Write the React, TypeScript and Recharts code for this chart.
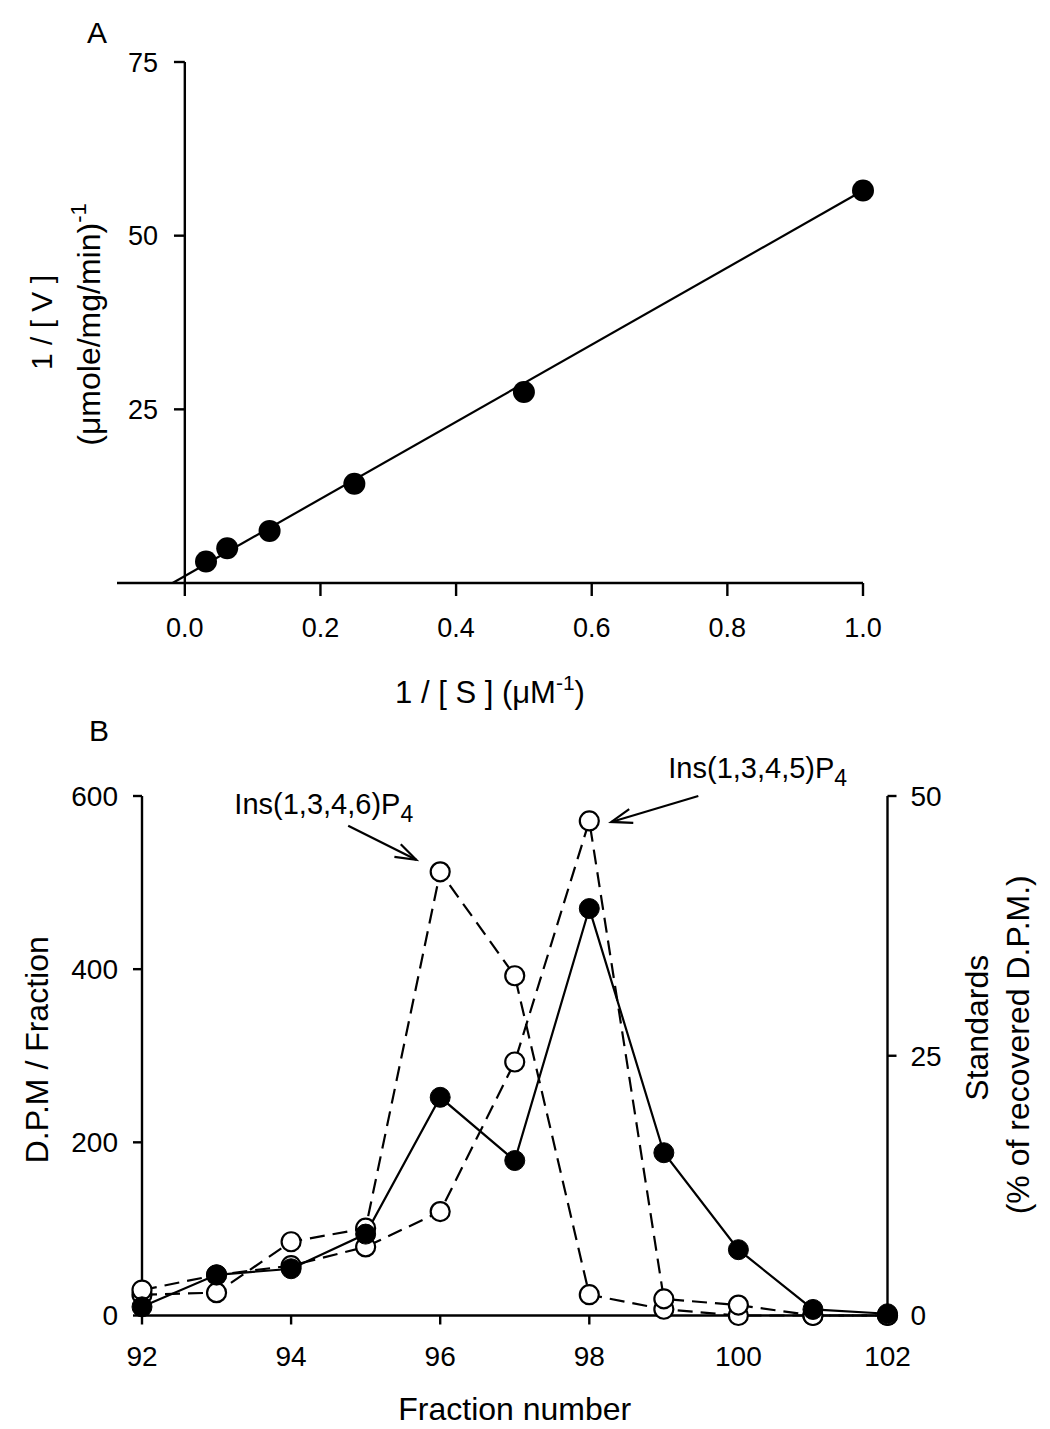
import React from 'react';
import {
  ScatterChart,
  Scatter,
  LineChart,
  Line,
  XAxis,
  YAxis,
  ReferenceLine,
  ReferenceDot,
  Label,
} from 'recharts';

// ---------- Panel A : double reciprocal plot ----------
const invS = [0.03125, 0.0625, 0.125, 0.25, 0.5, 1.0];
const invV = [3.1, 5.0, 7.5, 14.3, 27.5, 56.5];
const fitInvS = [-0.018, 1.0];
const fitInvV = [0, 56.5];
const xTicksA = [0, 0.2, 0.4, 0.6, 0.8, 1.0];
const yTicksA = [25, 50, 75];

// ---------- Panel B : HPLC fractions ----------
const fractions = [92, 93, 94, 95, 96, 97, 98, 99, 100, 101, 102];
const dpm = [10, 47, 54, 94, 252, 179, 470, 188, 76, 7, 2];
const std1346 = [2.0, 2.2, 7.1, 8.4, 42.7, 32.7, 2.0, 0.6, 0, 0, 0];
const std1345 = [2.45, 3.9, 4.8, 6.6, 10.0, 24.4, 47.6, 1.6, 1.0, 0, 0];
const xTicksB = [92, 94, 96, 98, 100, 102];
const yTicksLeftB = [0, 200, 400, 600];
const yTicksRightB = [0, 25, 50];

const FONT = '"Liberation Sans", Arial, Helvetica, sans-serif';

const pointsA = invS.map((x, i) => ({ x, y: invV[i] }));
const fitA = fitInvS.map((x, i) => ({ x, y: fitInvV[i] }));
const rowsB = fractions.map((f, i) => ({
  frac: f,
  dpm: dpm[i],
  s1346: std1346[i],
  s1345: std1345[i],
}));

const RotText = ({ x, y, size, children }: any) => (
  <text
    x={x}
    y={y}
    transform={`rotate(-90 ${x} ${y})`}
    textAnchor="middle"
    fontSize={size}
    fontFamily={FONT}
    fill="#000"
  >
    {children}
  </text>
);

const YTitleA = (props: any) => {
  const vb = props.viewBox;
  const right = vb.x + vb.width;
  const cy = vb.y + vb.height / 2;
  return (
    <g>
      <RotText x={right - 65} y={cy} size={30}>
        1 / [ V ]
      </RotText>
      <RotText x={right - 17} y={cy + 2} size={32}>
        (μmole/mg/min)
        <tspan dy={-14} fontSize={22}>
          -1
        </tspan>
      </RotText>
      <text x={right - 30} y={vb.y - 19} fontSize={30} fontFamily={FONT} fill="#000">
        A
      </text>
    </g>
  );
};

const XTitleA = (props: any) => {
  const vb = props.viewBox;
  const cx = vb.x + vb.width / 2;
  return (
    <text x={cx} y={vb.y + 120} textAnchor="middle" fontSize={31} fontFamily={FONT} fill="#000">
      1 / [ S ] (μM
      <tspan dy={-13} fontSize={21}>
        -1
      </tspan>
      <tspan dy={13}>)</tspan>
    </text>
  );
};

const YTitleBLeft = (props: any) => {
  const vb = props.viewBox;
  const cy = vb.y + vb.height / 2 - 6;
  return (
    <g>
      <RotText x={vb.x - 14} y={cy} size={32}>
        D.P.M / Fraction
      </RotText>
      <text x={vb.x + 27} y={vb.y - 55} fontSize={30} fontFamily={FONT} fill="#000">
        B
      </text>
    </g>
  );
};

const YTitleBRight = (props: any) => {
  const vb = props.viewBox;
  const cy = vb.y + vb.height / 2;
  return (
    <g>
      <RotText x={vb.x + 100} y={cy - 28} size={32}>
        Standards
      </RotText>
      <RotText x={vb.x + 141} y={cy - 11} size={32}>
        (% of recovered D.P.M.)
      </RotText>
    </g>
  );
};

const XTitleB = (props: any) => {
  const vb = props.viewBox;
  const cx = vb.x + vb.width / 2;
  return (
    <text x={cx} y={vb.y + 104} textAnchor="middle" fontSize={32} fontFamily={FONT} fill="#000">
      Fraction number
    </text>
  );
};

const Arrow = ({ x1, y1, x2, y2 }: any) => {
  const ang = Math.atan2(y2 - y1, x2 - x1);
  const L = 22;
  const a = 0.33;
  const hx1 = x2 - L * Math.cos(ang - a);
  const hy1 = y2 - L * Math.sin(ang - a);
  const hx2 = x2 - L * Math.cos(ang + a);
  const hy2 = y2 - L * Math.sin(ang + a);
  return (
    <g stroke="#000" strokeWidth={2.2} fill="none">
      <line x1={x1} y1={y1} x2={x2} y2={y2} />
      <polyline points={`${hx1},${hy1} ${x2},${y2} ${hx2},${hy2}`} />
    </g>
  );
};

const Ann1346 = (p: any) => {
  const { cx, cy } = p;
  return (
    <g>
      <Arrow x1={cx - 92} y1={cy - 46} x2={cx - 24} y2={cy - 12} />
      <text x={cx - 27} y={cy - 58} textAnchor="end" fontSize={29} fontFamily={FONT} fill="#000">
        Ins(1,3,4,6)P
        <tspan dy={8} fontSize={23}>
          4
        </tspan>
      </text>
    </g>
  );
};

const Ann1345 = (p: any) => {
  const { cx, cy } = p;
  return (
    <g>
      <Arrow x1={cx + 109} y1={cy - 25} x2={cx + 22} y2={cy + 1} />
      <text x={cx + 79} y={cy - 43} textAnchor="start" fontSize={29} fontFamily={FONT} fill="#000">
        Ins(1,3,4,5)P
        <tspan dy={8} fontSize={23}>
          4
        </tspan>
      </text>
    </g>
  );
};

const FilledDotA = (p: any) => <circle cx={p.cx} cy={p.cy} r={11} fill="#000" />;

const OpenDot = (p: any) => (
  <circle
    key={`o-${p.dataKey}-${p.index}`}
    cx={p.cx}
    cy={p.cy}
    r={9.5}
    fill="#fff"
    stroke="#000"
    strokeWidth={2.2}
  />
);

const FilledDot = (p: any) => (
  <circle key={`f-${p.index}`} cx={p.cx} cy={p.cy} r={10} fill="#000" stroke="#000" strokeWidth={1} />
);

const axisStyle = { stroke: '#000', strokeWidth: 2.4 };

export default function App() {
  return (
    <div
      style={{
        position: 'absolute',
        left: 0,
        top: 0,
        width: 1050,
        height: 1429,
        background: '#fff',
        fontFamily: FONT,
      }}
    >
      <div style={{ position: 'absolute', left: 0, top: 0 }}>
        <ScatterChart width={1050} height={730} margin={{ top: 62, right: 187, bottom: 87, left: 57 }}>
          <XAxis
            type="number"
            dataKey="x"
            domain={[-0.1, 1]}
            ticks={xTicksA}
            interval={0}
            tickFormatter={(v: number) => v.toFixed(1)}
            height={60}
            axisLine={axisStyle}
            tickLine={axisStyle}
            tickSize={13}
            tickMargin={22}
            tick={{ fill: '#000', fontSize: 27, fontFamily: FONT }}
          >
            <Label content={XTitleA} />
          </XAxis>
          <YAxis
            type="number"
            dataKey="y"
            domain={[0, 75]}
            width={60}
            axisLine={false}
            tickLine={false}
            tick={false}
          >
            <Label content={YTitleA} />
          </YAxis>
          <ReferenceLine
            segment={[
              { x: 0, y: 0 },
              { x: 0, y: 75 },
            ]}
            stroke="#000"
            strokeWidth={2.4}
          />
          {yTicksA.map((t) => (
            <ReferenceLine
              key={`yt-${t}`}
              segment={[
                { x: -0.016, y: t },
                { x: 0, y: t },
              ]}
              stroke="#000"
              strokeWidth={2.4}
              label={{
                value: String(t),
                position: 'left',
                offset: 16,
                fill: '#000',
                fontSize: 27,
                fontFamily: FONT,
              }}
            />
          ))}
          <Scatter
            data={fitA}
            line={{ stroke: '#000', strokeWidth: 2.2 }}
            shape={() => <g />}
            isAnimationActive={false}
          />
          <Scatter data={pointsA} shape={FilledDotA} isAnimationActive={false} />
        </ScatterChart>
      </div>
      <div style={{ position: 'absolute', left: 0, top: 700 }}>
        <LineChart
          width={1050}
          height={729}
          data={rowsB}
          margin={{ top: 96, right: 82.5, bottom: 53.5, left: 62 }}
        >
          <XAxis
            type="number"
            dataKey="frac"
            domain={[92, 102]}
            ticks={xTicksB}
            interval={0}
            height={60}
            axisLine={axisStyle}
            tickLine={axisStyle}
            tickSize={9}
            tickMargin={22}
            tick={{ fill: '#000', fontSize: 28, fontFamily: FONT }}
          >
            <Label content={XTitleB} />
          </XAxis>
          <YAxis
            yAxisId="left"
            type="number"
            domain={[0, 600]}
            ticks={yTicksLeftB}
            interval={0}
            width={80}
            axisLine={axisStyle}
            tickLine={axisStyle}
            tickSize={9}
            tickMargin={15}
            tick={{ fill: '#000', fontSize: 28, fontFamily: FONT }}
          >
            <Label content={YTitleBLeft} />
          </YAxis>
          <YAxis
            yAxisId="right"
            orientation="right"
            type="number"
            domain={[0, 50]}
            ticks={yTicksRightB}
            interval={0}
            width={80}
            axisLine={axisStyle}
            tickLine={axisStyle}
            tickSize={9}
            tickMargin={14}
            tick={{ fill: '#000', fontSize: 28, fontFamily: FONT }}
          >
            <Label content={YTitleBRight} />
          </YAxis>
          <Line
            yAxisId="right"
            dataKey="s1346"
            stroke="#000"
            strokeWidth={2.2}
            strokeDasharray="15 8"
            dot={OpenDot}
            activeDot={false}
            isAnimationActive={false}
          />
          <Line
            yAxisId="right"
            dataKey="s1345"
            stroke="#000"
            strokeWidth={2.2}
            strokeDasharray="15 8"
            dot={OpenDot}
            activeDot={false}
            isAnimationActive={false}
          />
          <Line
            yAxisId="left"
            dataKey="dpm"
            stroke="#000"
            strokeWidth={2.2}
            dot={FilledDot}
            activeDot={false}
            isAnimationActive={false}
          />
          <ReferenceDot
            yAxisId="right"
            x={fractions[4]}
            y={std1346[4]}
            r={0}
            shape={Ann1346}
          />
          <ReferenceDot
            yAxisId="right"
            x={fractions[6]}
            y={std1345[6]}
            r={0}
            shape={Ann1345}
          />
        </LineChart>
      </div>
    </div>
  );
}
